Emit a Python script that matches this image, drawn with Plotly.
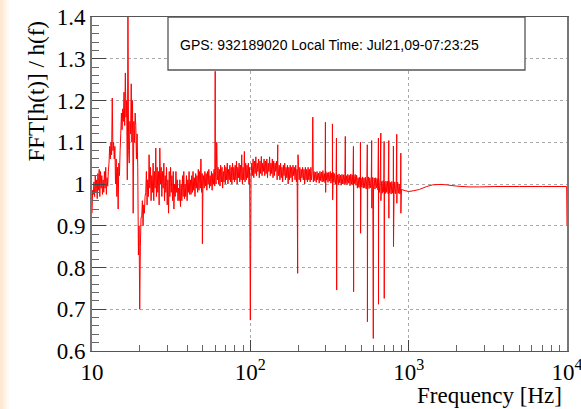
import numpy as np
import plotly.graph_objects as go

# ---------------- data ----------------
# noisy band, segment by segment (frequency range in Hz, ratio values in order)
seg_a_range = (10.0, 20.4)
seg_a_ratio = [0.93, 0.985,
               0.975, 1.005, 0.97, 1.02, 0.98, 1.01, 0.965, 1.025, 0.985, 1.035, 0.97, 1.03,
               0.99, 1.02, 0.975, 1.01, 0.98, 1.03, 0.99, 1.04, 0.975, 1.015, 0.995, 1.03,
               1.05, 1.09, 1.06, 1.10, 1.07, 1.206, 1.08, 1.10, 1.06, 1.09,
               1.0, 1.06, 0.97, 1.04, 0.94, 1.05, 1.02, 1.08,
               1.12, 1.17, 1.13, 1.18, 1.15, 1.22, 1.14, 1.266, 1.16,
               1.20, 1.01, 1.4, 1.08, 1.05, 1.15,
               1.12, 1.24, 1.10, 1.20, 0.93, 1.15, 1.10, 1.17,
               1.14, 1.06, 1.12, 1.04,
               0.83, 0.90, 0.70, 0.85, 0.92]

seg_b_range = (20.6, 34.9)
seg_b_ratio = [0.92, 0.96, 0.90, 0.95, 0.93, 0.97,
               0.98, 1.03, 0.95, 1.01, 0.97, 1.07, 0.99, 1.04, 0.96, 1.02, 0.98, 1.05, 0.96, 1.03,
               0.99, 1.086, 0.97, 1.04, 0.98, 1.03, 0.95, 1.086, 1.0, 1.04, 0.97, 1.03, 0.99, 1.05,
               0.96, 1.02, 0.98, 1.04, 0.95, 1.01, 0.93, 1.03, 0.97, 1.04, 0.98, 1.02, 0.96, 1.03,
               0.94, 1.0, 0.97, 1.03, 0.98, 1.01, 0.96]

seg_c_range = (35.2, 99.0)
seg_c_ratio = [0.99, 0.96, 1.01, 0.946, 1.0, 0.96, 1.02, 0.97, 1.03, 0.965, 1.0, 0.97, 1.02, 0.96,
               1.01, 0.98, 1.03, 0.975,
               1.01, 0.975, 1.02, 0.98, 1.03, 0.985, 1.015, 0.97, 1.025, 0.99, 1.02, 0.98, 1.035,
               0.985, 1.03, 0.99, 1.06, 0.98, 1.025, 0.99,
               1.02, 0.99, 1.03, 0.995, 1.025, 0.985, 1.03, 1.0, 1.035, 0.99, 1.02, 0.995, 1.03,
               0.985, 1.025, 1.0, 1.035, 0.995, 1.03, 1.0, 1.1,
               1.01, 1.04, 1.0, 1.035, 0.995, 1.045, 1.005, 1.04, 0.99, 1.03, 1.005, 1.045, 1.0,
               1.04, 1.01, 1.05, 1.0, 1.035, 1.01, 1.045, 1.005, 1.04, 1.0, 1.05, 1.01, 1.04, 1.005,
               1.045, 1.01, 1.055, 1.0, 1.04, 1.015, 1.05, 1.005, 1.045, 1.01, 1.07, 1.0, 1.04,
               1.01, 1.078, 1.005, 1.05, 1.01, 1.045, 1.015, 1.05, 1.0, 1.04]

seg_d_range = (101.0, 246.0)
seg_d_ratio = [1.01, 1.05, 1.02, 1.06, 1.015, 1.055, 1.025, 1.065, 1.02, 1.05, 1.03, 1.06, 1.015,
               1.055, 1.025, 1.066, 1.02, 1.05, 1.03, 1.06, 1.02, 1.055, 1.025, 1.06, 1.015, 1.05,
               1.03, 1.065, 1.02, 1.05, 1.025, 1.06, 1.015, 1.055, 1.02, 1.05, 1.03, 1.055, 1.01,
               1.05,
               1.02, 1.045, 1.01, 1.05, 1.015, 1.04, 1.005, 1.045, 1.02, 1.05, 1.01, 1.04, 1.015,
               1.045, 1.0, 1.04, 1.01, 1.045, 1.015, 1.04, 1.005, 1.045, 1.02, 1.04, 1.01, 1.045,
               1.005, 1.035, 1.015, 1.045, 1.01, 1.04, 1.005, 1.035, 1.015, 1.04, 1.01, 1.035, 1.0,
               1.04, 1.01, 1.035, 1.005, 1.04, 1.01, 1.035, 1.005, 1.04, 1.01, 1.03]

seg_e_range = (250.0, 890.0)
seg_e_ratio = [1.005, 1.03, 1.008, 1.028, 1.004, 1.03, 1.01, 1.026, 1.002, 1.03, 1.008, 1.028,
               1.005, 1.032, 1.006, 1.025, 1.003, 1.03, 1.009, 1.027, 1.004, 1.028, 1.007, 1.03,
               1.002, 1.026, 1.006, 1.028, 1.004, 1.025,
               0.999, 1.023, 1.001, 1.022, 0.998, 1.024, 1.002, 1.021, 0.997, 1.023, 1.0, 1.022,
               0.999, 1.025, 1.001, 1.02, 0.998, 1.023, 1.002, 1.021, 0.996, 1.024, 1.0, 1.022,
               0.998, 1.02, 1.001, 1.023, 0.997, 1.021,
               0.99, 1.015, 0.992, 1.016, 0.989, 1.014, 0.993, 1.017, 0.99, 1.015, 0.991, 1.016,
               0.988, 1.014, 0.992, 1.017, 0.989, 1.015, 0.991, 1.013, 0.987, 1.016, 0.99, 1.014,
               0.988, 1.015, 0.991, 1.013, 0.986, 1.012,
               0.98, 1.008, 0.982, 1.006, 0.978, 1.008, 0.981, 1.005, 0.977, 1.007, 0.98, 1.006,
               0.976, 1.008, 0.979, 1.004, 0.976, 1.006, 0.978, 1.003, 0.975, 1.005, 0.977, 1.002,
               0.975, 1.004, 0.978, 1.0, 0.976, 0.99]

# smooth high-frequency part
smooth_freq = [900, 950, 1000, 1080, 1170, 1300, 1420, 1600, 1730, 2000, 2400, 2800, 3500,
               5000, 7000, 9950, 10000]
smooth_ratio = [0.987, 0.984, 0.982, 0.984, 0.987, 0.994, 0.998, 0.999, 0.998, 0.995, 0.993,
                0.993, 0.994, 0.994, 0.994, 0.994, 0.90]

# narrow spikes (lines)
spike_freq = [49.8, 60.0, 100.0, 149.0, 199.0, 200.0, 248.0, 298.0, 299.0, 330.0, 331.0,
              350.0, 351.0, 398.0, 448.0, 449.0, 496.0, 497.0, 548.0, 549.0, 584.0, 585.0,
              598.0, 644.0, 645.0, 667.0, 668.0, 700.0, 701.0, 749.0, 750.0, 801.0, 802.0,
              841.0, 842.0, 892.0, 893.0]
spike_ratio = [0.857, 1.27, 0.674, 1.094, 0.786, 1.07, 1.16, 1.148, 0.98, 1.144, 0.962,
               1.11, 0.746, 1.114, 1.09, 0.742, 1.10, 0.882, 1.094, 0.67, 1.104, 0.942,
               0.63, 1.11, 0.712, 1.122, 0.96, 1.102, 0.726, 1.104, 0.918, 1.091, 0.85,
               1.119, 0.954, 1.074, 0.93]

y_tick_vals = [0.6, 0.7, 0.8, 0.9, 1.0, 1.1, 1.2, 1.3, 1.4]
y_tick_text = ["0.6", "0.7", "0.8", "0.9", "1", "1.1", "1.2", "1.3", "1.4"]
x_tick_vals = [10, 100, 1000, 10000]
x_tick_text = ["10", "10<sup>2</sup>", "10<sup>3</sup>", "10<sup>4</sup>"]
info_text = "GPS: 932189020 Local Time: Jul21,09-07:23:25"

# ---------------- assemble ----------------
fs, vs = [], []
for rng, vals in [(seg_a_range, seg_a_ratio), (seg_b_range, seg_b_ratio),
                  (seg_c_range, seg_c_ratio), (seg_d_range, seg_d_ratio),
                  (seg_e_range, seg_e_ratio)]:
    fs.append(np.geomspace(rng[0], rng[1], len(vals)))
    vs.append(np.array(vals))
fs.append(np.array(spike_freq, float)); vs.append(np.array(spike_ratio))
fs.append(np.array(smooth_freq, float)); vs.append(np.array(smooth_ratio))
freq = np.concatenate(fs)
ratio = np.concatenate(vs)
order = np.argsort(freq, kind="stable")
freq, ratio = freq[order], ratio[order]

minor_x = [m * d for d in (10, 100, 1000) for m in range(2, 10)]

fig = go.Figure()
fig.add_trace(go.Scatter(x=freq, y=ratio, mode="lines",
                         line=dict(color="#ff0000", width=1, simplify=False),
                         hoverinfo="skip", showlegend=False))

serif = "Liberation Serif, Times New Roman, serif"
fig.update_layout(
    width=581, height=409, autosize=False,
    margin=dict(l=92, r=14, t=17, b=58, pad=0, autoexpand=False),
    paper_bgcolor="white", plot_bgcolor="white",
    font=dict(family=serif, size=23, color="black"),
    showlegend=False,
)
fig.update_xaxes(
    type="log", range=[1, 4], automargin=False,
    tickvals=x_tick_vals, ticktext=x_tick_text, ticklabeloverflow="allow",
    ticks="inside", ticklen=11, tickcolor="#444", tickwidth=1,
    showline=True, linecolor="#555", linewidth=1.3, mirror=True,
    showgrid=True, gridcolor="#aaa", griddash="dot", gridwidth=1,
    minor=dict(tickvals=minor_x, ticks="inside", ticklen=6, tickcolor="#666",
               showgrid=False),
    tickfont=dict(family=serif, size=23),
    zeroline=False,
)
fig.update_yaxes(
    range=[0.6, 1.4], automargin=False,
    tickvals=y_tick_vals, ticktext=y_tick_text, ticklabeloverflow="allow",
    ticks="inside", ticklen=14, tickcolor="#444", tickwidth=1,
    showline=True, linecolor="#777", linewidth=1.8, mirror=True,
    showgrid=True, gridcolor="#aaa", griddash="dot", gridwidth=1,
    minor=dict(dtick=0.02, tick0=0.6, ticks="inside", ticklen=7, tickcolor="#666",
               showgrid=False),
    tickfont=dict(family=serif, size=23),
    zeroline=False,
)

# light page stripe at the far left
for x0, x1, col in [(0, 3, "#FDE8D4"), (3, 5, "#FEEFE1"), (5, 7, "#FFF5EC"), (7, 9, "#FFFAF5")]:
    fig.add_shape(type="rect", xref="paper", yref="paper",
                  x0=(x0 - 92) / 475, x1=(x1 - 92) / 475, y0=-0.2, y1=1.06,
                  line=dict(width=0), fillcolor=col, layer="below")

# info box
fig.add_shape(type="rect", xref="paper", yref="paper",
              x0=(168 - 92) / 475, x1=(525 - 92) / 475, y0=(351 - 70) / 334, y1=1.0,
              line=dict(color="#555", width=1.3), fillcolor="white", layer="above")
fig.add_annotation(xref="paper", yref="paper", x=(178 - 92) / 475, y=(351 - 45) / 334,
                   xanchor="left", yanchor="middle", showarrow=False, text=info_text,
                   font=dict(family="Liberation Sans, Arial, sans-serif", size=14, color="black"))

# axis titles (ROOT style, aligned to the axis ends)
fig.add_annotation(xref="paper", yref="paper", x=(36 - 92) / 475, y=1 - 2 / 334,
                   xanchor="center", yanchor="top", showarrow=False, textangle=-90,
                   text="FFT[h(t)] / h(f)", font=dict(family=serif, size=23, color="black"))
fig.add_annotation(xref="paper", yref="paper", x=(564 - 92) / 475, y=(351 - 395) / 334,
                   xanchor="right", yanchor="middle", showarrow=False,
                   text="Frequency [Hz]", font=dict(family=serif, size=23, color="black"))

fig.write_html("out.html", config={"displayModeBar": False},
               post_script="document.body.style.margin='0px';")
